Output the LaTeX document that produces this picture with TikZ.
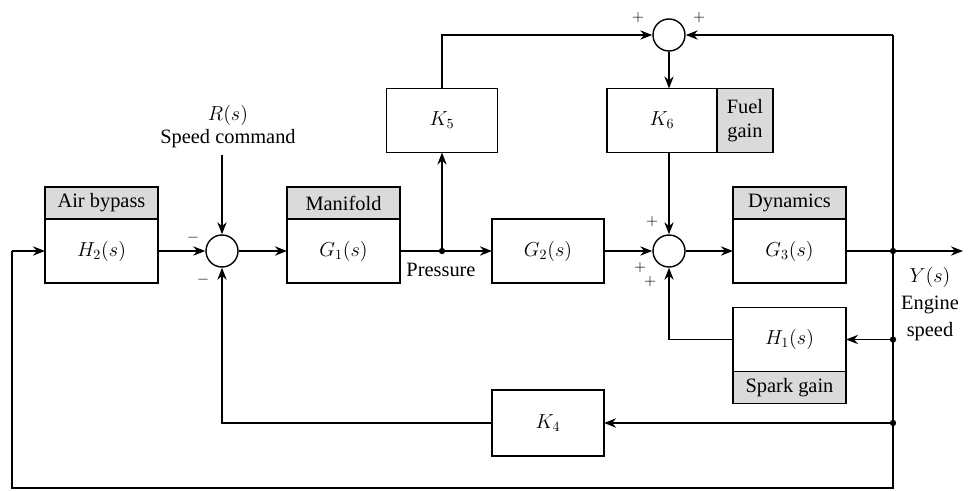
\documentclass[tikz,border=0pt]{standalone}
\usepackage{fontspec}
\setmainfont{Liberation Serif}
\definecolor{headgray}{HTML}{DADADA}
\usetikzlibrary{arrows.meta,positioning}
\begin{document}
\begin{tikzpicture}[x=0.025cm,y=-0.025cm,font=\fontsize{14.5}{17}\selectfont,blk/.style={draw,line width=1pt,minimum width=2.825cm,minimum height=1.6cm,inner sep=0pt,outer sep=0pt,align=center},head/.style={blk,fill=headgray,minimum height=0.8cm},sumj/.style={draw,circle,line width=1pt,minimum size=0.8cm,inner sep=0pt},arr/.style={-{Stealth[length=3mm,width=2.3mm]},line width=1.3pt},ln/.style={line width=1.3pt},dot/.style={circle,fill,inner sep=0pt,minimum size=4.5pt},sgn/.style={font=\fontsize{11}{13}\selectfont,inner sep=0pt}]
\useasboundingbox (0,0) rectangle (970,491);
% forward path
\node[blk] (byp) at (101.5,251) {$H_2(s)$};
\node[head,above=0pt of byp] (bypH) {Air bypass};
\node[sumj] (s1) at (222,251) {};
\node[blk] (man) at (343.5,251) {$G_1(s)$};
\node[head,above=0pt of man] (manH) {Manifold};
\coordinate (pr) at (442,251);
\node[blk,minimum width=2.8cm] (g2) at (548,251) {$G_2(s)$};
\node[sumj] (s2) at (669,251) {};
\node[blk] (dyn) at (789.5,251) {$G_3(s)$};
\node[head,above=0pt of dyn] (dynH) {Dynamics};
% upper branch
\node[blk,minimum width=2.775cm] (k5) at (442,120.5) {$K_5$};
\node[sumj] (st) at (669,35) {};
\node[blk,minimum width=2.75cm] (k6) at (662,120.5) {$K_6$};
\node[head,minimum width=1.4cm,minimum height=1.6cm,right=0pt of k6] (fuel) {Fuel\\gain};
% feedback blocks
\node[blk] (h1) at (789.5,339.5) {$H_1(s)$};
\node[head,below=0pt of h1] (spark) {Spark gain};
\node[blk,minimum width=2.8cm,minimum height=1.65cm] (k4) at (548,423) {$K_4$};
% junctions
\coordinate (rin) at (222,155);
\coordinate (jy) at (893,251);\coordinate (yout) at (963,251);
\coordinate (jt) at (893,35);\coordinate (jh) at (893,339.5);\coordinate (jk) at (893,423);
\coordinate (jb) at (893,488);\coordinate (lb) at (12,488);\coordinate (lt) at (12,251);
% labels
\node (rs) at (228,115) {$R(s)$};
\node (cmd) at (228,139) {Speed command};
\node (press) at (441,270) {Pressure};
\node (ys) at (930,277) {$Y(s)$};
\node (eng) at (930,305) {Engine};
\node (spd) at (930,332) {speed};
\node[sgn] at (193,238) {$-$};\node[sgn] at (203,280) {$-$};
\node[sgn] at (638,18) {$+$};\node[sgn] at (699,18) {$+$};
\node[sgn] at (652,222) {$+$};\node[sgn] at (640,268) {$+$};\node[sgn] at (650,282) {$+$};
% connectors
\draw[arr] (rin)--(s1);\draw[arr] (byp)--(s1);\draw[arr] (s1)--(man);\draw[ln] (man)--(pr);\draw[arr] (pr)--(g2);\draw[arr] (pr)--(k5);
\draw[arr] (k5)|-(st);\draw[arr] (st)--(st|-k6.north);\draw[arr] (st|-k6.south)--(s2);\draw[arr] (g2)--(s2);\draw[arr] (s2)--(dyn);\draw[arr] (dyn)--(yout);
\draw[arr] (jt)--(st);\draw[ln] (jt)--(jb)--(lb)--(lt);\draw[arr] (lt)--(byp);
\draw[arr] (jh)--(h1);\draw[arr] (h1)-|(s2);\draw[arr] (jk)--(k4);\draw[arr] (k4)-|(s1);
\node[dot] at (pr) {};\node[dot] at (jy) {};\node[dot] at (jh) {};\node[dot] at (jk) {};
\end{tikzpicture}
\end{document}
